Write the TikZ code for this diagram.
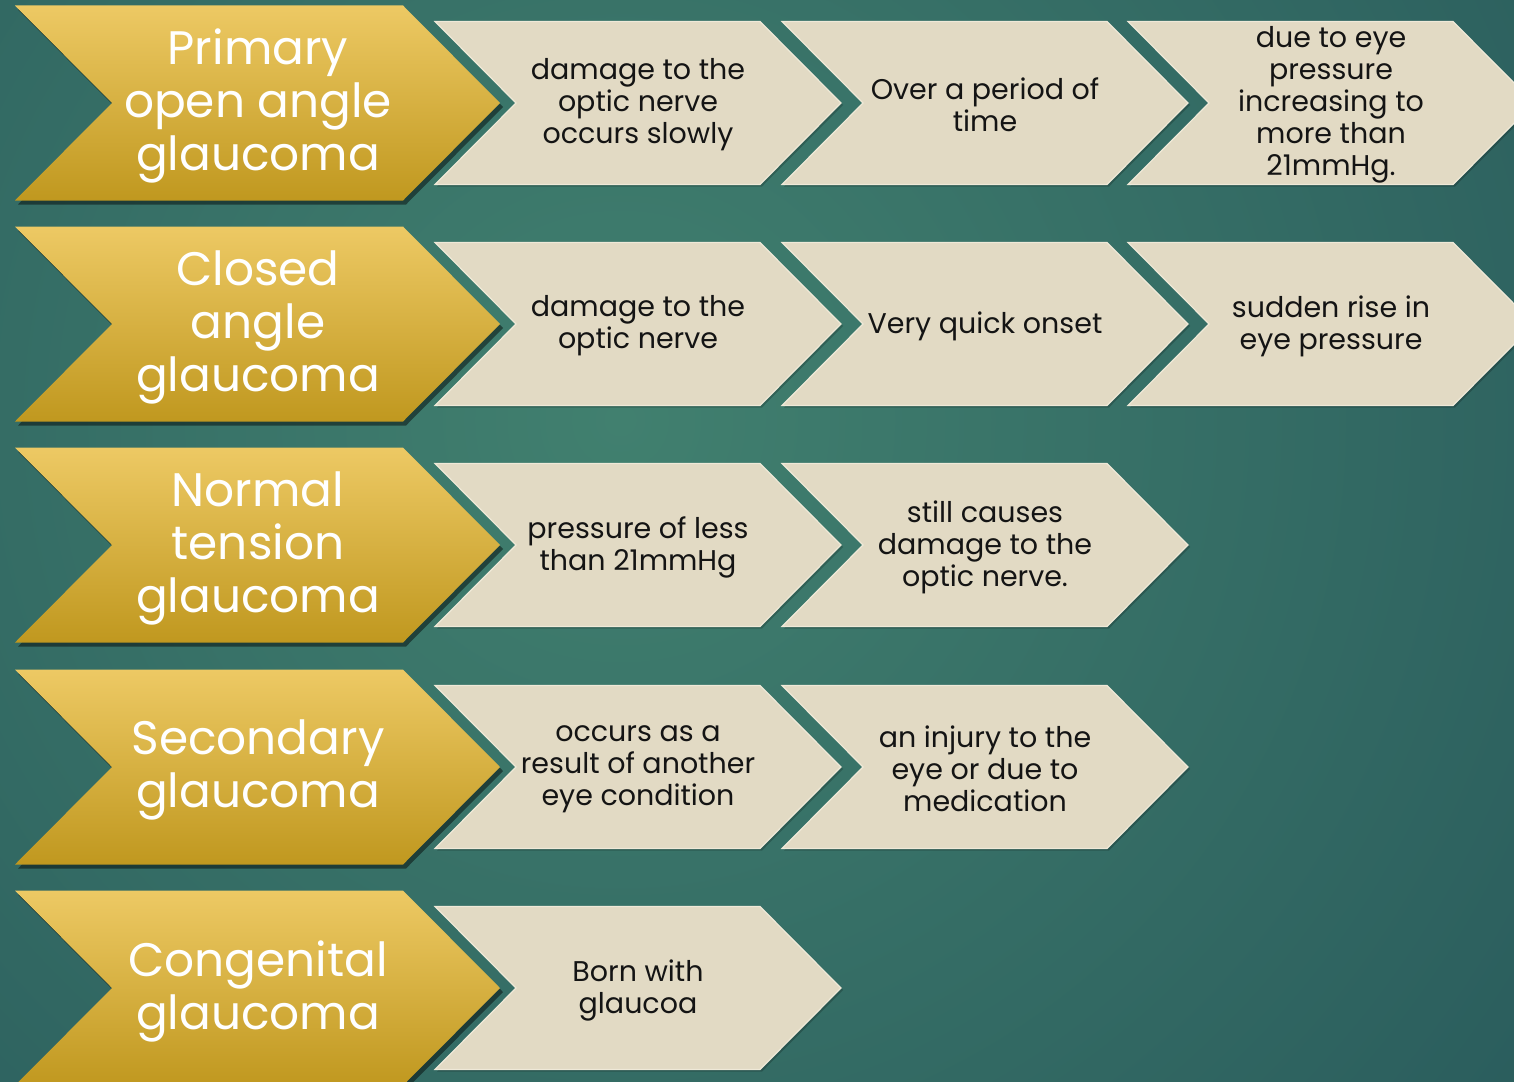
\documentclass[tikz,border=0pt]{standalone}
\usepackage{fontspec}
\setmainfont{Poppins}
\usetikzlibrary{shadows}
\definecolor{bgin}{HTML}{41806F}
\definecolor{bgout}{HTML}{19424F}
\definecolor{goldtop}{HTML}{EDC964}
\definecolor{goldbot}{HTML}{C0981F}
\definecolor{beige}{HTML}{E2DAC4}
\definecolor{beigeedge}{HTML}{EFE9D8}
\newcommand\mkchev[6]{% style, left, centre y, width, depth, height
  \path[#1] (#2,#3-#6/2) -- (#2+#4-#5,#3-#6/2) -- (#2+#4,#3) -- (#2+#4-#5,#3+#6/2)
    -- (#2,#3+#6/2) -- (#2+#5,#3) -- cycle;}
\begin{document}
\begin{tikzpicture}[x=1pt,y=-1pt,
  goldchev/.style={top color=goldtop, bottom color=goldbot,
    drop shadow={shadow xshift=3pt, shadow yshift=-4pt, opacity=0.45, fill=black}},
  beigechev/.style={fill=beige, draw=beigeedge, line width=1.2pt,
    drop shadow={shadow xshift=2pt, shadow yshift=-2pt, opacity=0.2, fill=black}},
  goldtxt/.style={text=white, font=\fontsize{47}{53}\selectfont, align=center, inner sep=0pt, yshift=-3pt},
  beigetxt/.style={text=black!92, font=\fontsize{28.5}{32}\selectfont, align=center, inner sep=0pt, yshift=-2pt}
]
\useasboundingbox (0,0) rectangle (1514,1081);
\clip (0,0) rectangle (1514,1081);
\shade[inner color=bgin, outer color=bgout] (620,420) circle (2000);
% row 1
\mkchev{goldchev}{15}{103}{485}{97}{195}
\mkchev{beigechev}{435}{103}{406}{81}{163}
\mkchev{beigechev}{782}{103}{406}{81}{163}
\mkchev{beigechev}{1128}{103}{406}{81}{163}
\node[goldtxt] (g1) at (258,103) {Primary\\open angle\\glaucoma};
\node[beigetxt] (b11) at (638,103) {damage to the\\optic nerve\\occurs slowly};
\node[beigetxt] (b12) at (985,103) {Over a period of\\time};
\node[beigetxt] (b13) at (1331,103) {due to eye\\pressure\\increasing to\\more than\\21mmHg.};
% row 2
\mkchev{goldchev}{15}{324}{485}{97}{195}
\mkchev{beigechev}{435}{324}{406}{81}{163}
\mkchev{beigechev}{782}{324}{406}{81}{163}
\mkchev{beigechev}{1128}{324}{406}{81}{163}
\node[goldtxt] (g2) at (258,324) {Closed\\angle\\glaucoma};
\node[beigetxt] (b21) at (638,324) {damage to the\\optic nerve};
\node[beigetxt] (b22) at (985,324) {Very quick onset};
\node[beigetxt] (b23) at (1331,324) {sudden rise in\\eye pressure};
% row 3
\mkchev{goldchev}{15}{545}{485}{97}{195}
\mkchev{beigechev}{435}{545}{406}{81}{163}
\mkchev{beigechev}{782}{545}{406}{81}{163}
\node[goldtxt] (g3) at (258,545) {Normal\\tension\\glaucoma};
\node[beigetxt] (b31) at (638,545) {pressure of less\\than 21mmHg};
\node[beigetxt] (b32) at (985,545) {still causes\\damage to the\\optic nerve.};
% row 4
\mkchev{goldchev}{15}{767}{485}{97}{195}
\mkchev{beigechev}{435}{767}{406}{81}{163}
\mkchev{beigechev}{782}{767}{406}{81}{163}
\node[goldtxt] (g4) at (258,767) {Secondary\\glaucoma};
\node[beigetxt] (b41) at (638,767) {occurs as a\\result of another\\eye condition};
\node[beigetxt] (b42) at (985,767) {an injury to the\\eye or due to\\medication};
% row 5
\mkchev{goldchev}{15}{988}{485}{97}{195}
\mkchev{beigechev}{435}{988}{406}{81}{163}
\node[goldtxt] (g5) at (258,988) {Congenital\\glaucoma};
\node[beigetxt] (b51) at (638,988) {Born with\\glaucoa};
\end{tikzpicture}
\end{document}
